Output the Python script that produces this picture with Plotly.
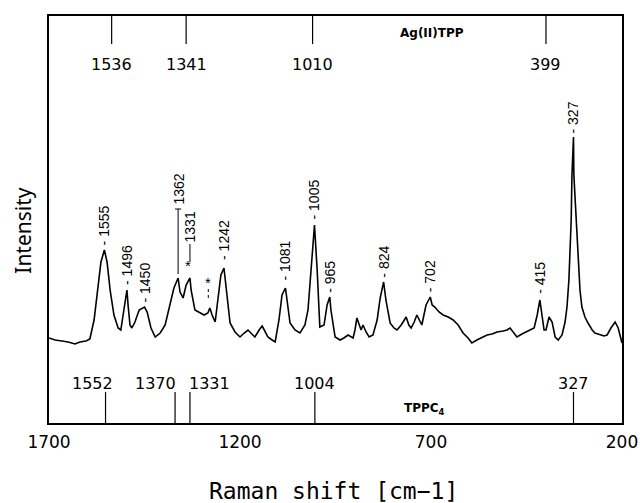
import numpy as np
import plotly.graph_objects as go

# Raman spectrum (wavenumber, intensity in arbitrary units)
wavenumber = [1700, 1684, 1666, 1650, 1632, 1619, 1603, 1593, 1582, 1572, 1564, 1555, 1548, 1540, 1530,
              1519, 1512, 1504, 1496, 1493, 1488, 1483, 1475, 1464, 1450, 1443, 1433, 1422, 1409, 1396,
              1383, 1373, 1362, 1357, 1349, 1341, 1331, 1328, 1318, 1305, 1294, 1284, 1279, 1273, 1265,
              1258, 1250, 1242, 1237, 1226, 1213, 1200, 1189, 1179, 1169, 1161, 1150, 1142, 1135, 1127,
              1116, 1108, 1098, 1090, 1081, 1077, 1069, 1056, 1043, 1030, 1022, 1014, 1005, 998, 991,
              980, 972, 965, 962, 951, 938, 928, 917, 904, 899, 894, 888, 883, 878, 870,
              862, 852, 841, 833, 824, 818, 807, 797, 789, 778, 765, 758, 752, 744, 737,
              729, 724, 713, 702, 697, 690, 679, 668, 655, 642, 629, 616, 603, 593, 580,
              566, 553, 540, 527, 511, 501, 493, 483, 475, 462, 449, 441, 430, 422, 415,
              412, 404, 399, 391, 383, 375, 367, 357, 349, 344, 339, 333, 331, 327, 326,
              320, 315, 310, 305, 297, 289, 278, 271, 258, 247, 239, 229, 218, 210, 200]
intensity = [85, 83, 82, 81, 79, 81, 82, 84, 103, 138, 161, 173, 161, 133, 108,
             95, 93, 113, 133, 118, 98, 95, 101, 113, 116, 111, 95, 86, 90, 98,
             118, 135, 145, 131, 125, 138, 145, 133, 113, 110, 108, 110, 115, 108, 101,
             123, 148, 155, 138, 100, 91, 86, 90, 93, 89, 86, 93, 97, 92, 86,
             83, 81, 103, 128, 135, 123, 100, 93, 90, 98, 113, 153, 198, 153, 96,
             98, 118, 126, 113, 86, 83, 85, 88, 85, 93, 105, 98, 93, 98, 91,
             86, 88, 103, 125, 141, 123, 100, 95, 93, 98, 106, 98, 95, 101, 108,
             101, 98, 118, 126, 118, 116, 111, 108, 106, 103, 98, 90, 85, 80, 83,
             86, 88, 89, 91, 92, 93, 95, 90, 86, 89, 91, 93, 95, 108, 123,
             113, 93, 93, 106, 101, 86, 83, 88, 101, 116, 143, 203, 248, 286, 248,
             203, 158, 133, 116, 106, 100, 93, 90, 88, 87, 88, 95, 101, 95, 80]

# Peak labels and the gap between peak top and label
peak_labels = [1555, 1496, 1450, 1362, 1331, 1242, 1081, 1005, 965, 824, 702, 415, 327]
label_gaps = [3, 3, 2, 71, 34, 6, 6, 4, 2, 2, 3, 4, 2]

# Reference bands
agtpp_bands = [1536, 1341, 1010, 399]
tppc4_bands = [1552, 1370, 1331, 1004, 327]
tppc4_anchor = ["right", "right", "left", "center", "center"]
tppc4_shift = [9, 3, -3, 0, 0]

x_ticks = [1700, 1200, 700, 200]

fig = go.Figure()
fig.add_trace(go.Scatter(x=wavenumber, y=intensity, mode="lines",
                         line=dict(color="black", width=1.6), hoverinfo="skip"))

annotations = []
shapes = []
label_font = dict(family="Liberation Sans", size=14, color="black")
star_font = dict(family="Liberation Sans", size=15, color="black")
for lab, gap in zip(peak_labels, label_gaps):
    peak = float(np.interp(lab, wavenumber[::-1], intensity[::-1]))
    base = peak + gap
    if lab == 1362:
        shapes.append(dict(type="line", xref="x", yref="y", x0=lab, x1=lab,
                           y0=peak + 4, y1=base - 2, line=dict(color="black", width=1)))
        shapes.append(dict(type="line", xref="x", yref="y", x0=lab + 8, x1=lab - 8,
                           y0=base - 2, y1=base - 2, line=dict(color="black", width=1)))
        text = str(lab)
    elif lab == 1331:
        shapes.append(dict(type="line", xref="x", yref="y", x0=lab, x1=lab,
                           y0=peak + 16, y1=base, line=dict(color="black", width=1)))
        annotations.append(dict(x=lab + 6, y=peak + 13, xref="x", yref="y", text="*",
                                showarrow=False, font=star_font, yanchor="middle"))
        text = str(lab)
    else:
        text = "- " + str(lab)
    annotations.append(dict(x=lab, y=base, xref="x", yref="y", text=text, textangle=-90,
                            showarrow=False, font=label_font, xanchor="center", yanchor="bottom"))

# second asterisk
annotations.append(dict(x=1283, y=141, xref="x", yref="y", text="*", showarrow=False,
                        font=star_font, yanchor="middle"))
shapes.append(dict(type="line", xref="x", yref="y", x0=1283, x1=1283, y0=125, y1=136,
                   line=dict(color="black", width=1, dash="dot")))

band_font = dict(family="DejaVu Sans", size=16, color="black")
for b in agtpp_bands:
    shapes.append(dict(type="line", xref="x", yref="paper", x0=b, x1=b, y0=0.931, y1=1,
                       line=dict(color="black", width=1.2)))
    annotations.append(dict(x=b, y=0.880, xref="x", yref="paper", text=str(b), showarrow=False,
                            font=band_font, xanchor="center", yanchor="middle"))
for b, anc, sh in zip(tppc4_bands, tppc4_anchor, tppc4_shift):
    shapes.append(dict(type="line", xref="x", yref="paper", x0=b, x1=b, y0=0, y1=0.076,
                       line=dict(color="black", width=1.2)))
    annotations.append(dict(x=b, y=0.098, xref="x", yref="paper", text=str(b), showarrow=False,
                            font=band_font, xanchor=anc, xshift=sh, yanchor="middle"))

annotations.append(dict(x=0.668, y=0.958, xref="paper", yref="paper", text="<b>Ag(II)TPP</b>",
                        showarrow=False, font=dict(family="DejaVu Sans", size=12, color="black"),
                        xanchor="center", yanchor="middle"))
annotations.append(dict(x=0.655, y=0.034, xref="paper", yref="paper", text="<b>TPPC<sub>4</sub></b>",
                        showarrow=False, font=dict(family="DejaVu Sans", size=12, color="black"),
                        xanchor="center", yanchor="middle"))
annotations.append(dict(x=0.497, y=-0.167, xref="paper", yref="paper", text="Raman shift [cm\u22121]",
                        showarrow=False, font=dict(family="DejaVu Sans Mono", size=23, color="black"),
                        xanchor="center", yanchor="middle"))
annotations.append(dict(x=-0.046, y=0.474, xref="paper", yref="paper", text="Intensity", textangle=-90,
                        showarrow=False, font=dict(family="Noto Sans", size=21, color="black"),
                        xanchor="center", yanchor="middle"))

fig.update_layout(
    width=640, height=503,
    margin=dict(l=49, r=18, t=16, b=80, autoexpand=False),
    paper_bgcolor="white", plot_bgcolor="white",
    showlegend=False,
    annotations=annotations,
    shapes=shapes,
    xaxis=dict(range=[1700, 200], tickvals=x_ticks, ticktext=[str(t) for t in x_ticks],
               showgrid=False, zeroline=False, showline=True, mirror=True, automargin=False,
               linecolor="black", linewidth=1.5, ticks="", ticklabelstandoff=3,
               tickfont=dict(family="DejaVu Sans", size=17, color="black")),
    yaxis=dict(range=[0, 407], showticklabels=False, showgrid=False, zeroline=False, automargin=False,
               showline=True, mirror=True, linecolor="black", linewidth=1.5, ticks=""),
)

fig.write_html("out.html", config={"displayModeBar": False},
               post_script="document.body.style.margin='0px';")
